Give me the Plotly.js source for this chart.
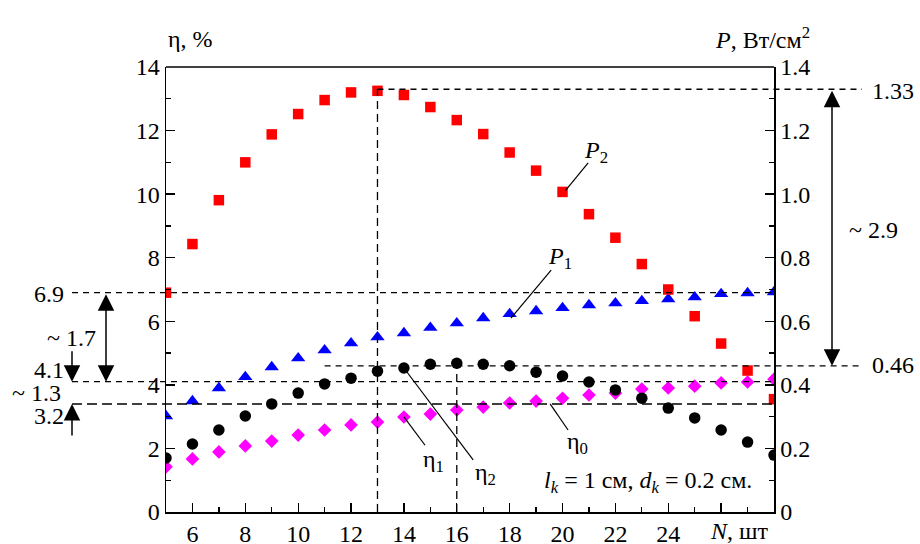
<!DOCTYPE html>
<html><head><meta charset="utf-8">
<script src="https://cdn.plot.ly/plotly-3.0.1.min.js"></script>
<style>html,body{margin:0;padding:0;background:#fff}</style>
</head><body><div id="chart" style="width:920px;height:544px"></div>
<script>
// ---------- data ----------
const N = [5,6,7,8,9,10,11,12,13,14,15,16,17,18,19,20,21,22,23,24,25,26,27,28];
// P2, W/cm^2 (right axis, red squares)
const P2 = [0.69,0.843,0.981,1.10,1.188,1.252,1.296,1.32,1.325,1.312,1.274,1.233,1.189,1.131,1.074,1.007,0.937,0.863,0.78,0.70,0.616,0.53,0.445,0.355];
// P1, W/cm^2 (right axis, blue triangles)
const P1 = [0.302,0.349,0.39,0.425,0.456,0.484,0.509,0.531,0.55,0.563,0.58,0.594,0.61,0.623,0.632,0.642,0.651,0.657,0.664,0.67,0.676,0.686,0.689,0.692];
// eta2, % (left axis, black circles)
const ETA2 = [1.7,2.14,2.58,3.02,3.4,3.74,4.03,4.21,4.43,4.53,4.65,4.68,4.65,4.6,4.4,4.28,4.09,3.84,3.58,3.27,2.96,2.58,2.2,1.79];
// eta1, % (left axis, magenta diamonds)
const ETA1 = [1.42,1.67,1.89,2.08,2.23,2.42,2.58,2.74,2.83,2.99,3.08,3.21,3.3,3.43,3.49,3.58,3.68,3.74,3.87,3.9,3.96,4.06,4.09,4.18];

// axes ticks
const X_RANGE = [5,28];
const X_TICKS = [6,8,10,12,14,16,18,20,22,24,26];
const X_TICKTEXT = ['6','8','10','12','14','16','18','20','22','24',''];
const X_MINOR = [5,7,9,11,13,15,17,19,21,23,25,27];
const Y_RANGE = [0,14];
const Y_TICKS = [0,2,4,6,8,10,12,14];
const Y_MINOR = [1,3,5,7,9,11,13];
const Y2_RANGE = [0,1.4];
const Y2_TICKS = [0,0.2,0.4,0.6,0.8,1.0,1.2,1.4];
const Y2_TICKTEXT = ['0','0.2','0.4','0.6','0.8','1.0','1.2','1.4'];
const Y2_MINOR = [0.1,0.3,0.5,0.7,0.9,1.1,1.3];

// reference levels
const P_MAX = 1.33, P_LOW = 0.46;      // right axis
const N_OPT = 13, N_ETA = 16, N_START = 11;
const ETA_LEVELS = [6.9, 4.1, 3.4];     // left axis dashed levels
const ETA_LABELS = ['6.9', '4.1', '3.2'];

// ---------- geometry helpers ----------
const M = {l:166, r:146, t:67, b:32};
const W = 920 - M.l - M.r, H = 544 - M.t - M.b;
const xp = v => (v - X_RANGE[0]) / (X_RANGE[1] - X_RANGE[0]);
const yp = v => (v - Y_RANGE[0]) / (Y_RANGE[1] - Y_RANGE[0]);
const y2p = v => (v - Y2_RANGE[0]) / (Y2_RANGE[1] - Y2_RANGE[0]);
const pxX = p => (p - M.l) / W;            // pixel -> paper
const pxY = p => (544 - M.b - p) / H;
const FONT = '"Liberation Serif", "Times New Roman", Times, serif';
const FS = 24;

const traces = [
  {x:N, y:ETA1, type:'scatter', mode:'markers', yaxis:'y',
   marker:{symbol:'diamond', size:10.5, color:'#ff00ff'}},
  {x:N, y:ETA2, type:'scatter', mode:'markers', yaxis:'y',
   marker:{symbol:'circle', size:11.5, color:'#000000'}},
  {x:N, y:P1, type:'scatter', mode:'markers', yaxis:'y2',
   marker:{symbol:'triangle-up', size:12.5, color:'#0000ff'}},
  {x:N, y:P2, type:'scatter', mode:'markers', yaxis:'y2',
   marker:{symbol:'square', size:10.5, color:'#ff0000'}}
];

const dashS = {color:'#000', width:1.3, dash:'6px,5px'};
const dashL = {color:'#000', width:1.5, dash:'10px,5px'};
const thin = {color:'#000', width:1.2};

const shapes = [
  {type:'line', xref:'paper', yref:'paper', x0:0, x1:1, y0:1, y1:1, line:{color:'#000', width:1.5}},
  {type:'line', xref:'paper', yref:'paper', x0:xp(N_OPT), x1:pxX(862), y0:y2p(P_MAX), y1:y2p(P_MAX), line:dashS},
  {type:'line', xref:'paper', yref:'paper', x0:xp(N_START), x1:pxX(862), y0:y2p(P_LOW), y1:y2p(P_LOW), line:dashS},
  {type:'line', xref:'x', yref:'y2', x0:N_OPT, x1:N_OPT, y0:0, y1:P_MAX, line:{color:'#000', width:1.3, dash:'8px,5px'}},
  {type:'line', xref:'x', yref:'y2', x0:N_ETA, x1:N_ETA, y0:0, y1:P_LOW, line:{color:'#000', width:1.3, dash:'8px,5px'}},
  {type:'line', xref:'paper', yref:'paper', x0:pxX(72), x1:1, y0:yp(ETA_LEVELS[0]), y1:yp(ETA_LEVELS[0]), line:dashS},
  {type:'line', xref:'paper', yref:'paper', x0:pxX(72), x1:1, y0:yp(ETA_LEVELS[1]), y1:yp(ETA_LEVELS[1]), line:dashS},
  {type:'line', xref:'paper', yref:'paper', x0:pxX(72), x1:1, y0:yp(ETA_LEVELS[2]), y1:yp(ETA_LEVELS[2]), line:dashL},
  {type:'line', xref:'x', yref:'y', x0:20.97, y0:10.98, x1:20.1, y1:10.1, line:thin},
  {type:'line', xref:'x', yref:'y', x0:19.57, y0:7.61, x1:18.05, y1:6.1, line:thin},
  {type:'line', xref:'x', yref:'y', x0:14.8, y0:2.1, x1:14.0, y1:2.99, line:thin},
  {type:'line', xref:'x', yref:'y', x0:16.62, y0:1.64, x1:14.0, y1:4.53, line:thin},
  {type:'line', xref:'x', yref:'y', x0:20.21, y0:2.58, x1:19.53, y1:3.4, line:thin}
];

const ppY = H / (Y_RANGE[1]-Y_RANGE[0]);
const ppY2 = H / (Y2_RANGE[1]-Y2_RANGE[0]);
const arrowBase = {text:'', showarrow:true, arrowhead:2, arrowsize:2.2, arrowwidth:1.5, arrowcolor:'#000',
                   standoff:0, startstandoff:0, axref:'pixel', ayref:'pixel', ax:0};
const txt = (x, y, text, extra) => Object.assign({xref:'paper', yref:'paper', x:pxX(x), y:pxY(y), text:text,
  showarrow:false, xanchor:'center', yanchor:'middle', font:{family:FONT, size:FS, color:'#000'}}, extra||{});

const annotations = [
  txt(190, 39, 'η, %'),
  txt(762, 38, '<i>P</i>, Вт/см<sup>2</sup>'),
  txt(739, 531, '<i>N</i>, шт'),
  txt(596, 152, '<i>P</i><sub>2</sub>'),
  txt(560, 258, '<i>P</i><sub>1</sub>'),
  txt(433, 461, 'η<sub>1</sub>'),
  txt(485, 474, 'η<sub>2</sub>'),
  txt(577, 443, 'η<sub>0</sub>'),
  txt(648, 482, '<i>l<sub>k</sub></i> = 1 см, <i>d<sub>k</sub></i> = 0.2 см.'),
  txt(49, 294, ETA_LABELS[0]),
  txt(49, 370, ETA_LABELS[1]),
  txt(49, 416, ETA_LABELS[2]),
  txt(71, 338, '~ 1.7'),
  txt(36, 393, '~ 1.3'),
  txt(893, 91, String(P_MAX)),
  txt(893, 365, String(P_LOW)),
  txt(873, 230, '~ 2.9'),
  Object.assign({}, arrowBase, {xref:'paper', yref:'y', x:pxX(106), y:ETA_LEVELS[1], ay:-(ETA_LEVELS[0]-ETA_LEVELS[1])*ppY,
     arrowside:'end+start', startarrowhead:2, startarrowsize:2.2}),
  Object.assign({}, arrowBase, {xref:'paper', yref:'y', x:pxX(72), y:ETA_LEVELS[1], ay:-32}),
  Object.assign({}, arrowBase, {xref:'paper', yref:'y', x:pxX(72), y:ETA_LEVELS[2], ay:33}),
  Object.assign({}, arrowBase, {xref:'paper', yref:'y2', x:pxX(832), y:P_LOW, ay:-(P_MAX-P_LOW)*ppY2,
     arrowside:'end+start', startarrowhead:2, startarrowsize:2.2})
];

const axisCommon = {showgrid:false, zeroline:false, showline:true, linecolor:'#000', linewidth:1.5,
  ticks:'inside', ticklen:9, tickwidth:1.3, tickcolor:'#000', tickfont:{family:FONT, size:FS, color:'#000'}};

const layout = {
  width:920, height:544, margin:M, paper_bgcolor:'#fff', plot_bgcolor:'#fff', showlegend:false,
  font:{family:FONT, size:FS, color:'#000'},
  xaxis:Object.assign({}, axisCommon, {range:X_RANGE, tickmode:'array', tickvals:X_TICKS, ticktext:X_TICKTEXT,
     minor:{tickvals:X_MINOR, ticks:'inside', ticklen:5, tickwidth:1.3, tickcolor:'#000', showgrid:false}}),
  yaxis:Object.assign({}, axisCommon, {range:Y_RANGE, tickmode:'array', tickvals:Y_TICKS,
     minor:{tickvals:Y_MINOR, ticks:'inside', ticklen:5, tickwidth:1.3, tickcolor:'#000', showgrid:false}}),
  yaxis2:Object.assign({}, axisCommon, {range:Y2_RANGE, overlaying:'y', side:'right', tickmode:'array',
     tickvals:Y2_TICKS, ticktext:Y2_TICKTEXT,
     minor:{tickvals:Y2_MINOR, ticks:'inside', ticklen:5, tickwidth:1.3, tickcolor:'#000', showgrid:false}}),
  shapes:shapes, annotations:annotations
};

Plotly.newPlot('chart', traces, layout, {staticPlot:true, displayModeBar:false});
</script></body></html>
